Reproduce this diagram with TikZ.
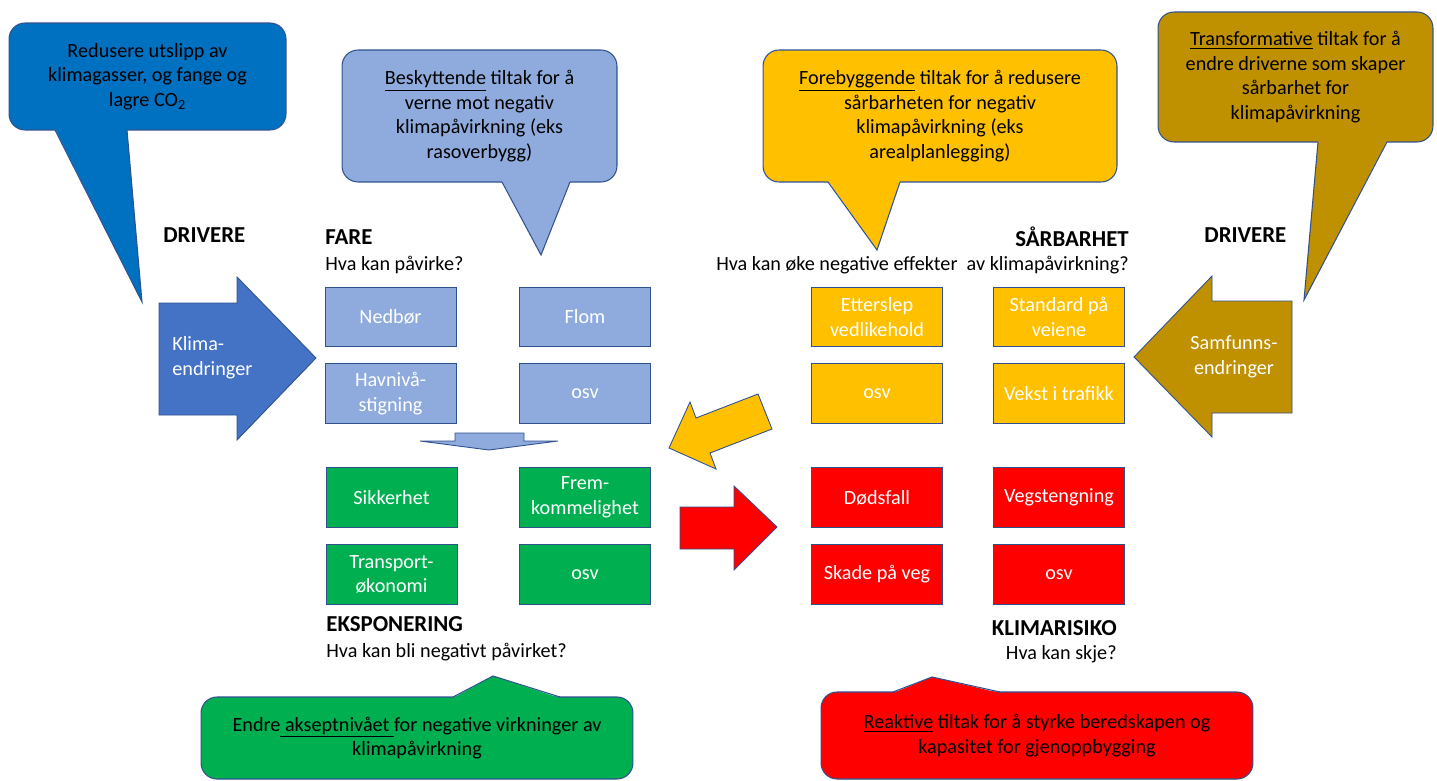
\documentclass[tikz,border=0pt]{standalone}
\usepackage{fontspec}
\setmainfont{Carlito}

\definecolor{cDarkBlue}{HTML}{0070C0}
\definecolor{cLightBlue}{HTML}{8FAADC}
\definecolor{cArrowBlue}{HTML}{4472C4}
\definecolor{cYellow}{HTML}{FFC000}
\definecolor{cOlive}{HTML}{BF9000}
\definecolor{cGreen}{HTML}{00B050}
\definecolor{cRed}{HTML}{FF0000}
\definecolor{cLine}{HTML}{2F528F}

\begin{document}
\begin{tikzpicture}[x=0.02cm, y=-0.02cm,
    txt/.style={font=\fontsize{11.5}{14}\selectfont, inner sep=0pt},
    head/.style={font=\fontsize{13}{15}\selectfont\bfseries, inner sep=0pt},
    cell/.style={draw=cLine, line width=0.5pt, minimum width=2.62cm, minimum height=1.19cm,
        inner sep=1pt, align=center, text=white, font=\fontsize{11.5}{14}\selectfont},
    bubble/.style={draw=cLine, line width=0.6pt, rounded corners=0.32cm, align=center,
        inner sep=2pt, font=\fontsize{11.5}{14}\selectfont},
    pointer/.style={draw=cLine, line width=0.6pt},
    block/.style={draw=cLine, line width=0.5pt}]

    \useasboundingbox (0,0) rectangle (1437,781);

    % Bobler oppe
    \node[bubble, fill=cDarkBlue, minimum width=5.54cm, minimum height=2.14cm] (redusere) at (147.5,76.5)
        {Redusere utslipp av\\klimagasser, og fange og\\lagre CO\textsubscript{2}};
    \fill[cDarkBlue] (55,129) -- (142,302) -- (127,129) -- cycle;
    \draw[pointer] (55,130) -- (142,302) -- (127,130);

    \node[bubble, fill=cLightBlue, minimum width=5.5cm, minimum height=2.64cm] (beskytt) at (479.5,116)
        {\underline{Beskyttende} tiltak for å\\verne mot negativ\\klimapåvirkning (eks\\rasoverbygg)};
    \fill[cLightBlue] (502,181) -- (541,255) -- (570,181) -- cycle;
    \draw[pointer] (502,182) -- (541,255) -- (570,182);

    \node[bubble, fill=cYellow, minimum width=7.08cm, minimum height=2.64cm] (forebygg) at (940,116)
        {\underline{Forebyggende} tiltak for å redusere\\sårbarheten for negativ\\klimapåvirkning (eks\\arealplanlegging)};
    \fill[cYellow] (828,181) -- (877,250) -- (900,181) -- cycle;
    \draw[pointer] (828,182) -- (877,250) -- (900,182);

    \node[bubble, fill=cOlive, minimum width=5.5cm, minimum height=2.6cm] (transform) at (1295.5,77)
        {\underline{Transformative} tiltak for å\\endre driverne som skaper\\sårbarhet for\\klimapåvirkning};
    \fill[cOlive] (1318,141) -- (1304,300) -- (1387,141) -- cycle;
    \draw[pointer] (1318,142) -- (1304,300) -- (1387,142);

    % Bobler nede
    \node[bubble, fill=cGreen, minimum width=8.64cm, minimum height=1.64cm] (akseptniva) at (417,738)
        {Endre\underline{\ akseptnivået\ }for negative virkninger av\\klimapåvirkning};
    \fill[cGreen] (453,698) -- (493,676) -- (560,698) -- cycle;
    \draw[pointer] (453,697) -- (493,676) -- (560,697);

    \node[bubble, fill=cRed, minimum width=8.64cm, minimum height=1.74cm] (reaktiv) at (1037,735.5)
        {\underline{Reaktive} tiltak for å styrke beredskapen og\\kapasitet for gjenoppbygging};
    \fill[cRed] (893,693) -- (932,677) -- (1000,693) -- cycle;
    \draw[pointer] (893,692) -- (932,677) -- (1000,692);

    % Overskrifter
    \node[head, anchor=west] (driv1) at (163,235) {DRIVERE};
    \node[head, anchor=west] (fare) at (325,237) {FARE};
    \node[txt, anchor=west] (fareQ) at (325,265) {Hva kan påvirke?};
    \node[head, anchor=east] (saarbar) at (1129,237) {SÅRBARHET};
    \node[txt, anchor=east] (saarbarQ) at (1129,265) {Hva kan øke negative effekter \ av klimapåvirkning?};
    \node[head, anchor=west] (driv2) at (1204,235) {DRIVERE};
    \node[head, anchor=west] (eksp) at (326,624) {EKSPONERING};
    \node[txt, anchor=west] (ekspQ) at (326,652) {Hva kan bli negativt påvirket?};
    \node[head, anchor=east] (risiko) at (1117,628) {KLIMARISIKO};
    \node[txt, anchor=east] (risikoQ) at (1117,654) {Hva kan skje?};

    % Fare
    \node[cell, fill=cLightBlue] (nedbor) at (390.5,317) {Nedbør};
    \node[cell, fill=cLightBlue] (flom) at (585,317) {Flom};
    \node[cell, fill=cLightBlue] (havniva) at (390.5,393.5) {Havnivå-\\stigning};
    \node[cell, fill=cLightBlue] (osvFare) at (585,393.5) {osv};

    % Eksponering
    \node[cell, fill=cGreen] (sikkerhet) at (391.5,497.5) {Sikkerhet};
    \node[cell, fill=cGreen] (fremkom) at (585,497.5) {Frem-\\kommelighet};
    \node[cell, fill=cGreen] (transport) at (391.5,574.5) {Transport-\\økonomi};
    \node[cell, fill=cGreen] (osvEksp) at (585,574.5) {osv};

    % Sårbarhet
    \node[cell, fill=cYellow] (etterslep) at (877,317) {Etterslep\\vedlikehold};
    \node[cell, fill=cYellow] (standard) at (1059,317) {Standard på\\veiene};
    \node[cell, fill=cYellow] (osvSaar) at (877,393.5) {osv};
    \node[cell, fill=cYellow] (vekst) at (1059,393.5) {Vekst i trafikk};

    % Klimarisiko
    \node[cell, fill=cRed] (dodsfall) at (877,497.5) {Dødsfall};
    \node[cell, fill=cRed] (vegsteng) at (1059,497.5) {Vegstengning};
    \node[cell, fill=cRed] (skade) at (877,574.5) {Skade på veg};
    \node[cell, fill=cRed] (osvRisiko) at (1059,574.5) {osv};

    % Blokkpiler
    \draw[block, fill=cArrowBlue] (159,303) -- (237,303) -- (237,277) -- (316,358)
        -- (237,440) -- (237,415) -- (159,415) -- cycle;
    \node[txt, anchor=west, align=left, text=white] (klima) at (172,358) {Klima-\\endringer};

    \draw[block, fill=cOlive] (1292,301) -- (1212,301) -- (1212,276) -- (1134,357)
        -- (1212,437) -- (1212,413) -- (1292,413) -- cycle;
    \node[txt, align=center, text=white] (samfunn) at (1234,357) {Samfunns-\\endringer};

    \draw[block, fill=cLightBlue] (455,433) -- (524,433) -- (524,441) -- (558,441)
        -- (489,450) -- (420,441) -- (455,441) -- cycle;

    \draw[block, fill=cYellow] (669,448) -- (690,402) -- (696,418) -- (758,394)
        -- (772,429) -- (710,453) -- (716,469) -- cycle;

    \draw[block, fill=cRed] (680,507) -- (734,507) -- (734,486) -- (777,527)
        -- (734,570) -- (734,549) -- (680,549) -- cycle;
\end{tikzpicture}
\end{document}
